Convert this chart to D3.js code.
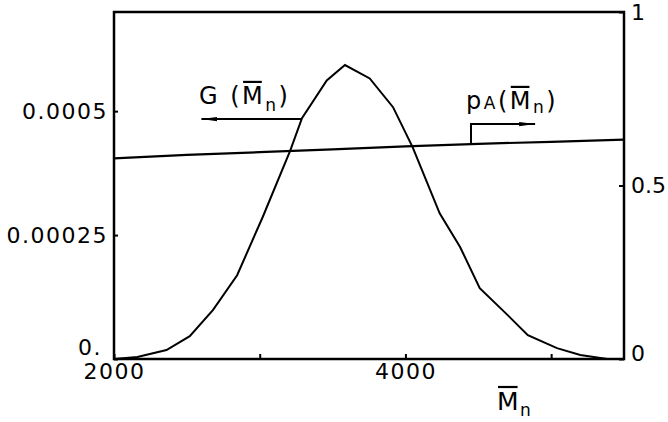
<!DOCTYPE html>
<html>
<head>
    <meta charset="utf-8"/>
    <style>
        body {
            margin: 0;
            background: #fff;
        }

        text {
            font-family: "DejaVu Sans", sans-serif;
            fill: #000;
        }
    </style>
</head>

<body>
<div id="chart"></div>
<script type="text/javascript" src="https://cdn.jsdelivr.net/npm/d3@7/dist/d3.min.js"></script>
<script type="text/javascript">

    var w = 668;
    var h = 422;

    // G(Mn) distribution
    var gMn = [2000, 2160, 2360, 2520, 2680, 2845, 3020, 3210, 3290, 3460, 3585, 3755, 3915, 4050, 4235, 4375, 4510, 4700, 4840, 5040, 5200, 5385, 5500];
    var gVal = [0, 0.000004, 0.000018, 0.000046, 0.000099, 0.000169, 0.000286, 0.000421, 0.000486, 0.000562, 0.000593, 0.000566, 0.000508, 0.000427, 0.000294, 0.000226, 0.000143, 0.000089, 0.000048, 0.000022, 0.000008, 0, 0];

    // pA(Mn), right axis
    var pMn = [2000, 2500, 3000, 3500, 4000, 4500, 5000, 5500];
    var pVal = [0.578, 0.588, 0.596, 0.604, 0.613, 0.620, 0.626, 0.632];

    // tick labels
    var xTicks = [2000, 3000, 4000, 5000];
    var xTickLabels = ["2000", "", "4000", ""];
    var yLeftTicks = [0, 0.00025, 0.0005];
    var yLeftLabels = ["0.", "0.00025", "0.0005"];
    var yRightTicks = [0, 0.5, 1];
    var yRightLabels = ["0", "0.5", "1"];

    var xScale = d3.scaleLinear()
        .domain([2000, 5500])
        .range([114, 624]);
    var yLeft = d3.scaleLinear()
        .domain([0, 0.0007])
        .range([359, 12]);
    var yRight = d3.scaleLinear()
        .domain([0, 1])
        .range([359, 12]);

    var svg = d3.select("#chart")
        .append("svg")
        .attr("width", w)
        .attr("height", h);

    function styleAxis(g) {
        g.select(".domain").remove();
        g.selectAll(".tick line").attr("stroke", "#000").attr("stroke-width", 2);
        g.selectAll(".tick text")
            .attr("font-family", "DejaVu Sans")
            .attr("font-size", 22)
            .attr("letter-spacing", 1.5);
    }

    // x axis
    svg.append("g")
        .attr("transform", "translate(0,359)")
        .call(d3.axisBottom(xScale)
            .tickValues(xTicks)
            .tickSizeInner(-5)
            .tickSizeOuter(0)
            .tickPadding(4)
            .tickFormat(function (d, i) {
                return xTickLabels[i];
            }))
        .call(styleAxis);

    // left axis
    var leftAxis = svg.append("g")
        .attr("transform", "translate(114,0)")
        .call(d3.axisLeft(yLeft)
            .tickValues(yLeftTicks)
            .tickSizeInner(-4)
            .tickSizeOuter(0)
            .tickPadding(6)
            .tickFormat(function (d, i) {
                return yLeftLabels[i];
            }))
        .call(styleAxis);
    leftAxis.selectAll(".tick text")
        .filter(function (d) {
            return d === 0;
        })
        .attr("x", -12)
        .attr("dy", "-0.22em");

    // right axis
    var rightAxis = svg.append("g")
        .attr("transform", "translate(624,0)")
        .call(d3.axisRight(yRight)
            .tickValues(yRightTicks)
            .tickSizeInner(-5)
            .tickSizeOuter(0)
            .tickPadding(7)
            .tickFormat(function (d, i) {
                return yRightLabels[i];
            }))
        .call(styleAxis);
    rightAxis.selectAll(".tick text")
        .attr("letter-spacing", 0)
        .filter(function (d) {
            return d === 0;
        })
        .attr("dy", "0.05em");

    // frame
    svg.append("rect")
        .attr("x", xScale(2000))
        .attr("y", yLeft(0.0007))
        .attr("width", xScale(5500) - xScale(2000))
        .attr("height", yLeft(0) - yLeft(0.0007))
        .attr("fill", "none")
        .attr("stroke", "#000")
        .attr("stroke-width", 2.5);

    var gLine = d3.line()
        .x(function (d, i) {
            return xScale(gMn[i]);
        })
        .y(function (d) {
            return yLeft(d);
        });

    var pLine = d3.line()
        .x(function (d, i) {
            return xScale(pMn[i]);
        })
        .y(function (d) {
            return yRight(d);
        });

    svg.append("path")
        .datum(gVal)
        .attr("d", gLine)
        .attr("fill", "none")
        .attr("stroke", "#000")
        .attr("stroke-width", 2);

    svg.append("path")
        .datum(pVal)
        .attr("d", pLine)
        .attr("fill", "none")
        .attr("stroke", "#000")
        .attr("stroke-width", 2.2);

    // arrowhead marker
    svg.append("defs").append("marker")
        .attr("id", "head")
        .attr("viewBox", "0 0 16 6")
        .attr("refX", 16)
        .attr("refY", 3)
        .attr("markerWidth", 16)
        .attr("markerHeight", 6)
        .attr("markerUnits", "userSpaceOnUse")
        .attr("orient", "auto")
        .append("path")
        .attr("d", "M0,0.8 L16,3 L0,5.2 Z")
        .attr("fill", "#000");

    // G arrow (points left, toward left axis)
    var gArrowY = 0.000484;
    svg.append("line")
        .attr("x1", xScale(3290))
        .attr("y1", yLeft(gArrowY))
        .attr("x2", xScale(2600))
        .attr("y2", yLeft(gArrowY))
        .attr("stroke", "#000")
        .attr("stroke-width", 2)
        .attr("marker-end", "url(#head)");

    // pA bracket arrow (points right, toward right axis)
    var pArrowX = 4450;
    var pArrowTop = 0.677;
    svg.append("path")
        .attr("d", "M" + xScale(pArrowX) + "," + yRight(0.619) +
            "L" + xScale(pArrowX) + "," + yRight(pArrowTop) +
            "L" + xScale(4890) + "," + yRight(pArrowTop))
        .attr("fill", "none")
        .attr("stroke", "#000")
        .attr("stroke-width", 2)
        .attr("marker-end", "url(#head)");

    // label with a bar over M and subscript n
    function mnLabel(x, y, parts, size, spacing) {
        var t = svg.append("text")
            .attr("x", x)
            .attr("y", y)
            .attr("font-size", size)
            .attr("letter-spacing", spacing);
        var idx = 0;
        var mIndex = -1;
        parts.forEach(function (p) {
            var ts = t.append("tspan").text(p.s);
            if (p.size) ts.attr("font-size", p.size);
            if (p.dy) ts.attr("dy", p.dy);
            if (p.bar) mIndex = idx;
            idx += p.s.length;
        });
        var node = t.node();
        var a = node.getStartPositionOfChar(mIndex);
        var b = node.getEndPositionOfChar(mIndex);
        svg.append("line")
            .attr("x1", a.x + 1)
            .attr("x2", b.x - spacing - 1)
            .attr("y1", y - size * 0.92)
            .attr("y2", y - size * 0.92)
            .attr("stroke", "#000")
            .attr("stroke-width", 2.2);
    }

    mnLabel(199, 104, [
        {s: "G ("},
        {s: "M", bar: true},
        {s: "n", size: 17, dy: 7},
        {s: ")", dy: -7}
    ], 24, 2.5);

    mnLabel(466, 109, [
        {s: "p"},
        {s: "A", size: 17},
        {s: "("},
        {s: "M", bar: true},
        {s: "n", size: 17, dy: 4},
        {s: ")", dy: -4}
    ], 24, 2.5);

    // x axis title
    mnLabel(497, 410, [
        {s: "M", bar: true},
        {s: "n", size: 17, dy: 6}
    ], 25, 1.5);

</script>
</body>
</html>
